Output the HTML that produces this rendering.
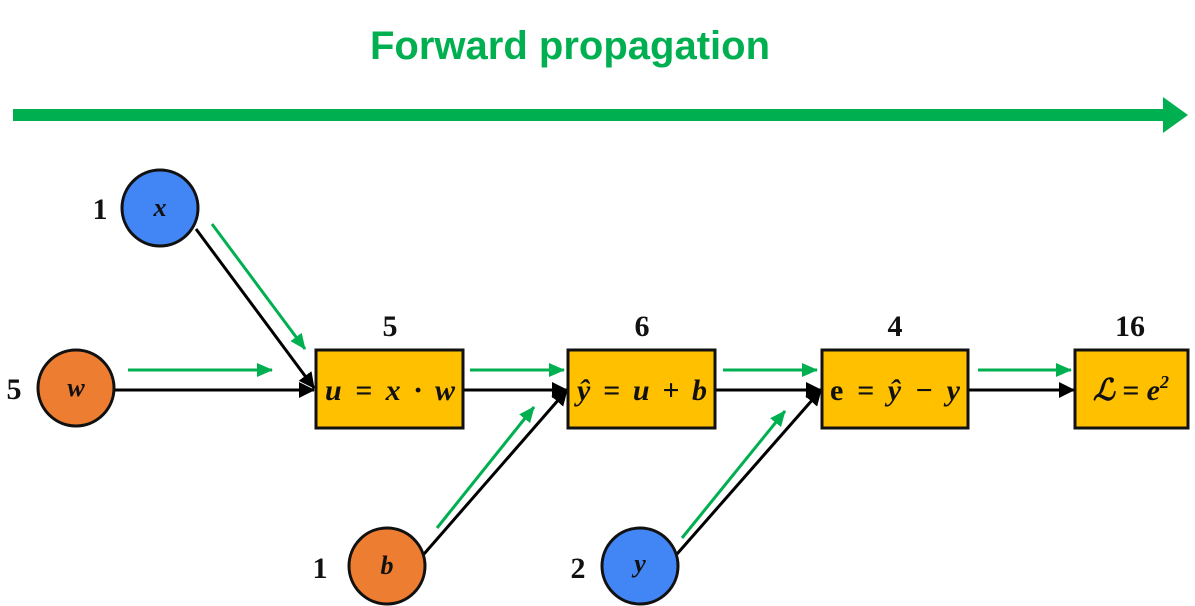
<!DOCTYPE html>
<html><head><meta charset="utf-8"><style>
html,body{margin:0;padding:0;background:#fff;}
svg{display:block;}
.t{font-family:"Liberation Serif",serif;font-weight:bold;font-size:30px;fill:#111;}
.m{font-family:"Liberation Serif",serif;font-weight:bold;font-style:italic;font-size:26px;fill:#111;}
.b{font-family:"Liberation Serif",serif;font-weight:bold;font-style:italic;font-size:30px;fill:#111;}
</style></head><body>
<svg width="1195" height="606" viewBox="0 0 1195 606" xmlns="http://www.w3.org/2000/svg">
<defs>
<marker id="ab" markerWidth="16" markerHeight="16" refX="15" refY="8" orient="auto" markerUnits="userSpaceOnUse" viewBox="0 0 16 16"><path d="M0,0 L16,8 L0,16 z" fill="#000"/></marker>
<marker id="ag" markerWidth="16" markerHeight="14" refX="15" refY="7" orient="auto" markerUnits="userSpaceOnUse" viewBox="0 0 16 14"><path d="M0,0 L16,7 L0,14 z" fill="#00b050"/></marker>
</defs>
<text x="570" y="59" text-anchor="middle" font-family="Liberation Sans,sans-serif" font-weight="bold" font-size="40" fill="#00b050">Forward propagation</text>
<rect x="13" y="109" width="1152" height="12" fill="#00b050"/>
<path d="M1163,97 L1188,115 L1163,133 z" fill="#00b050"/>

<g stroke="#000" stroke-width="3" fill="none">
<line x1="114" y1="390" x2="314" y2="390" marker-end="url(#ab)"/>
<line x1="196" y1="229" x2="314" y2="388" marker-end="url(#ab)"/>
<line x1="463" y1="390" x2="567" y2="390" marker-end="url(#ab)"/>
<line x1="424" y1="554" x2="567" y2="390" marker-end="url(#ab)"/>
<line x1="715" y1="390" x2="821" y2="390" marker-end="url(#ab)"/>
<line x1="677" y1="554" x2="821" y2="390" marker-end="url(#ab)"/>
<line x1="968" y1="390" x2="1074" y2="390" marker-end="url(#ab)"/>
</g>
<g stroke="#00b050" stroke-width="3" fill="none">
<line x1="128" y1="370" x2="272" y2="370" marker-end="url(#ag)"/>
<line x1="212" y1="224" x2="305" y2="349" marker-end="url(#ag)"/>
<line x1="470" y1="370" x2="564" y2="370" marker-end="url(#ag)"/>
<line x1="437" y1="528" x2="534" y2="407" marker-end="url(#ag)"/>
<line x1="723" y1="370" x2="817" y2="370" marker-end="url(#ag)"/>
<line x1="682" y1="538" x2="785" y2="411" marker-end="url(#ag)"/>
<line x1="978" y1="370" x2="1071" y2="370" marker-end="url(#ag)"/>
</g>

<g stroke="#111" stroke-width="3">
<circle cx="160" cy="208" r="38" fill="#4285f4"/>
<circle cx="76" cy="388" r="38" fill="#ed7d31"/>
<circle cx="387" cy="566" r="38" fill="#ed7d31"/>
<circle cx="640" cy="566" r="38" fill="#4285f4"/>
<rect x="316" y="350" width="147" height="78" fill="#ffc000"/>
<rect x="568" y="350" width="147" height="78" fill="#ffc000"/>
<rect x="822" y="350" width="146" height="78" fill="#ffc000"/>
<rect x="1075" y="350" width="113" height="78" fill="#ffc000"/>
</g>

<text class="m" x="160" y="216" text-anchor="middle">x</text>
<text class="m" x="76" y="396" text-anchor="middle">w</text>
<text class="m" x="387" y="574" text-anchor="middle">b</text>
<text class="m" x="640" y="572" text-anchor="middle">y</text>
<text class="t" x="100" y="219" text-anchor="middle">1</text>
<text class="t" x="14" y="399" text-anchor="middle">5</text>
<text class="t" x="320" y="578" text-anchor="middle">1</text>
<text class="t" x="578" y="578" text-anchor="middle">2</text>
<text class="t" x="390" y="336" text-anchor="middle">5</text>
<text class="t" x="642" y="336" text-anchor="middle">6</text>
<text class="t" x="895" y="336" text-anchor="middle">4</text>
<text class="t" x="1130" y="336" text-anchor="middle">16</text>

<text class="b" x="390" y="400" text-anchor="middle" textLength="130">u = x · w</text>
<text class="b" x="642" y="400" text-anchor="middle" textLength="130">ŷ = u + b</text>
<text class="b" x="895" y="400" text-anchor="middle" textLength="130"><tspan font-style="normal">e</tspan> = ŷ − y</text>
<text class="b" x="1131" y="400" text-anchor="middle">ℒ = e<tspan font-size="18" dy="-12">2</tspan></text>
</svg>
</body></html>
